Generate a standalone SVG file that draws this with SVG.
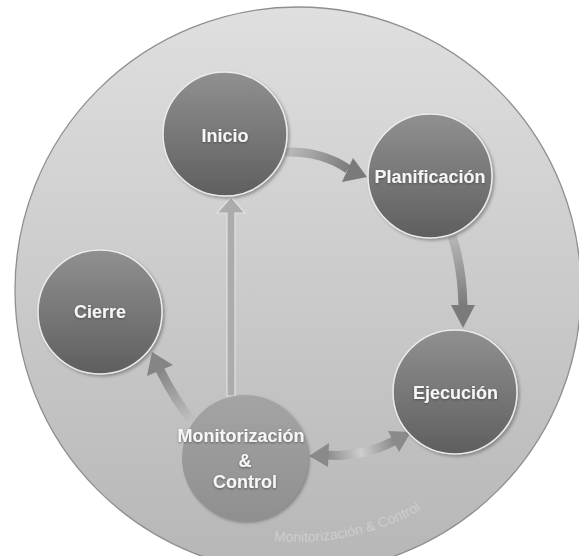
<svg xmlns="http://www.w3.org/2000/svg" width="579" height="556" viewBox="0 0 579 556">
  <style>
    .node { stroke: #ececec; stroke-width: 1.5; filter: url(#shadow); }
    .label { font-family: "Liberation Sans", Arial, sans-serif; font-weight: bold; font-size: 18px; fill: #f6f6f6; text-anchor: middle; filter: url(#textShadow); }
    .shaft { fill: none; stroke-width: 9; stroke-linecap: butt; }
  </style>
  <defs>
    <linearGradient id="bgFill" x1="0" y1="0" x2="0" y2="1">
      <stop offset="0" stop-color="#dfdfdf"/>
      <stop offset="1" stop-color="#b6b6b6"/>
    </linearGradient>
    <linearGradient id="nodeFill" x1="0" y1="0" x2="0" y2="1">
      <stop offset="0" stop-color="#909090"/>
      <stop offset="1" stop-color="#5f5f5f"/>
    </linearGradient>
    <linearGradient id="hubFill" x1="0" y1="0" x2="0" y2="1">
      <stop offset="0" stop-color="#a4a4a4"/>
      <stop offset="1" stop-color="#8f8f8f"/>
    </linearGradient>
    <linearGradient id="g1" gradientUnits="userSpaceOnUse" x1="285" y1="152" x2="350" y2="170">
      <stop offset="0" stop-color="#bdbdbd"/>
      <stop offset="1" stop-color="#7a7a7a"/>
    </linearGradient>
    <linearGradient id="g2" gradientUnits="userSpaceOnUse" x1="452" y1="236" x2="463" y2="306">
      <stop offset="0" stop-color="#b8b8b8"/>
      <stop offset="1" stop-color="#7a7a7a"/>
    </linearGradient>
    <linearGradient id="g3" gradientUnits="userSpaceOnUse" x1="194" y1="424" x2="160" y2="370">
      <stop offset="0" stop-color="#c4c4c4"/>
      <stop offset="1" stop-color="#858585"/>
    </linearGradient>
    <linearGradient id="g4" gradientUnits="userSpaceOnUse" x1="326" y1="455" x2="394" y2="441">
      <stop offset="0" stop-color="#8a8a8a"/>
      <stop offset="0.5" stop-color="#cdcdcd"/>
      <stop offset="1" stop-color="#8a8a8a"/>
    </linearGradient>
    <filter id="shadow" x="-20%" y="-20%" width="140%" height="140%">
      <feDropShadow dx="2" dy="2" stdDeviation="1.5" flood-color="#4a4a4a" flood-opacity="0.45"/>
    </filter>
    <filter id="textShadow" x="-10%" y="-30%" width="120%" height="160%">
      <feDropShadow dx="0" dy="1" stdDeviation="0.8" flood-color="#333333" flood-opacity="0.6"/>
    </filter>
    <!-- baseline for the rim caption, concentric with the outer circle -->
    <path id="rimArc" d="M 254 538 A 252 252 0 0 0 460 483"/>
  </defs>

  <!-- outer process circle -->
  <g id="process">
    <circle cx="298" cy="290" r="283" fill="url(#bgFill)" stroke="#8f8f8f" stroke-width="1.3"/>
    <text font-family="Liberation Sans, Arial, sans-serif" font-size="14" fill="#cdcdcd">
      <textPath href="#rimArc" startOffset="20">Monitorización &amp; Control</textPath>
    </text>
  </g>

  <!-- connectors -->
  <g id="connectors">
    <g id="inicio-planificacion">
      <path class="shaft" d="M 285 152 Q 322 151 348 169" stroke="url(#g1)"/>
      <path d="M 353 158 L 367 177 L 342 182 Z" fill="#7a7a7a"/>
    </g>
    <g id="planificacion-ejecucion">
      <path class="shaft" d="M 452 236 Q 462 266 463 306" stroke="url(#g2)"/>
      <path d="M 451 305 L 475 305 L 463 328 Z" fill="#7a7a7a"/>
    </g>
    <g id="monitorizacion-cierre">
      <path class="shaft" d="M 194 424 Q 175 400 160 370" stroke="url(#g3)"/>
      <path d="M 147 376 L 152 352 L 173 365 Z" fill="#858585"/>
    </g>
    <g id="monitorizacion-ejecucion">
      <path class="shaft" d="M 326 455 Q 362 458 394 441" stroke="url(#g4)"/>
      <path d="M 309 456 L 329 443 L 328 467 Z" fill="#8a8a8a"/>
      <path d="M 411 432 L 388 431 L 399 452 Z" fill="#8a8a8a"/>
    </g>
    <g id="monitorizacion-inicio">
      <path d="M 227 396 L 227 213 L 217 213 L 231 197 L 245 213 L 235 213 L 235 396 Z" fill="#acacac" stroke="#e2e2e2" stroke-width="1.2"/>
    </g>
  </g>

  <!-- process groups -->
  <g id="inicio">
    <circle class="node" cx="225" cy="134" r="62" fill="url(#nodeFill)"/>
    <text class="label" x="225" y="141.5">Inicio</text>
  </g>
  <g id="planificacion">
    <circle class="node" cx="430" cy="176" r="62" fill="url(#nodeFill)"/>
    <text class="label" x="430" y="183">Planificación</text>
  </g>
  <g id="ejecucion">
    <circle class="node" cx="455" cy="392" r="62" fill="url(#nodeFill)"/>
    <text class="label" x="455.5" y="399">Ejecución</text>
  </g>
  <g id="cierre">
    <circle class="node" cx="100" cy="312" r="62" fill="url(#nodeFill)"/>
    <text class="label" x="100" y="318">Cierre</text>
  </g>
  <g id="monitorizacion">
    <circle cx="245" cy="458" r="63" fill="url(#hubFill)" filter="url(#shadow)"/>
    <text class="label" x="241" y="442" font-size="17.5">Monitorización</text>
    <text class="label" x="245" y="467">&amp;</text>
    <text class="label" x="245" y="488">Control</text>
  </g>
</svg>
